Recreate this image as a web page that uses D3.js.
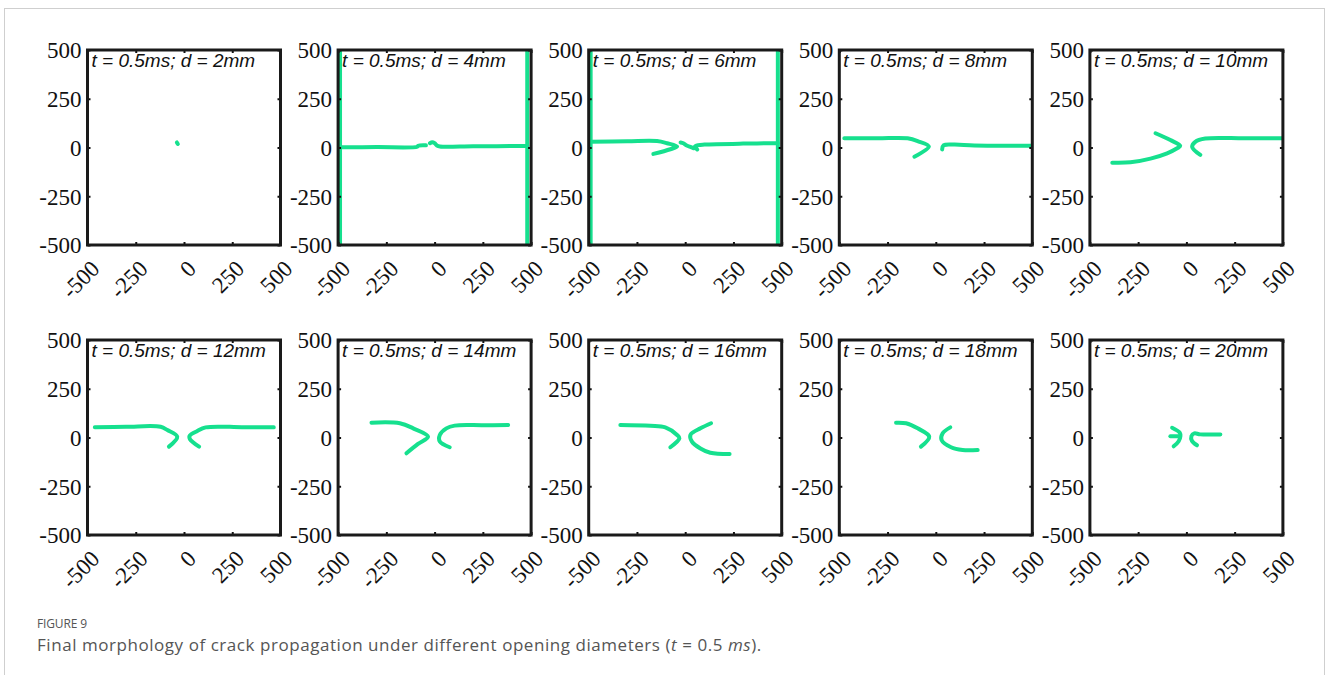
<!DOCTYPE html>
<html>
<head>
<meta charset="utf-8">
<script src="https://cdn.jsdelivr.net/npm/d3@7"></script>
<style>
  body { margin: 0; background: #fff; }
  .title { font-family: "Liberation Sans", Arial, sans-serif; font-style: italic; font-size: 19px; fill: #111; }
  .cap { font-family: "Open Sans", sans-serif; fill: #555; }
</style>
</head>
<body>
<div class="canvas"></div>
<script>
// opening diameters (mm), one panel each
const diameters = [2, 4, 6, 8, 10, 12, 14, 16, 18, 20];
const timeMs = 0.5;
const ticks = [-500, -250, 0, 250, 500];

// crack traces, [x, y] in mm
const crackD2 = [
  [[-37, 26], [-32, 18]]
];
const crackD4 = [
  [[-490, -500], [-490, 500]],
  [[480, -500], [480, 500]],
  [[-490, 1], [-300, 2], [-90, 4], [-85, 9], [-45, 11]],
  [[-24, 22], [-12, 27], [0, 22], [12, 10], [28, 5], [200, 6], [480, 8]]
];
const crackD6 = [
  [[-490, -500], [-490, 500]],
  [[480, -500], [480, 500]],
  [[-490, 30], [-300, 32], [-146, 33], [-94, 22], [-42, 5], [-77, -9], [-165, -33]],
  [[-24, 26], [-10, 22], [8, 10], [30, 2], [45, -4]],
  [[480, 22], [300, 20], [100, 15], [68, 12], [50, 4], [62, -10]]
];
const crackD8 = [
  [[-474, 47], [-300, 47], [-146, 47], [-94, 33], [-36, 5], [-111, -47]],
  [[33, -10], [40, 11], [96, 15], [200, 10], [495, 9]]
];
const crackD10 = [
  [[-384, -78], [-290, -76], [-186, -57], [-100, -30], [-48, -4], [-32, 8], [-83, 38], [-160, 73]],
  [[72, -38], [30, 3], [46, 29], [98, 46], [300, 47], [500, 47]]
];
const crackD12 = [
  [[-462, 53], [-300, 55], [-121, 55], [-86, 38], [-35, 4], [-78, -47]],
  [[78, -47], [31, -9], [29, 8], [69, 33], [112, 52], [300, 53], [465, 52]]
];
const crackD14 = [
  [[-327, 76], [-180, 73], [-111, 47], [-34, 4], [-86, -33], [-146, -81]],
  [[78, -50], [27, -21], [27, 13], [61, 47], [104, 61], [250, 63], [381, 64]]
];
const crackD16 = [
  [[-336, 64], [-180, 60], [-103, 52], [-42, 13], [-30, -4], [-77, -50]],
  [[134, 73], [79, 47], [27, 13], [35, -21], [79, -56], [130, -78], [230, -85]]
];
const crackD18 = [
  [[-206, 76], [-154, 73], [-94, 47], [-34, 4], [-77, -47]],
  [[75, 52], [35, 21], [30, -13], [79, -50], [139, -64], [217, -64]]
];
const crackD20 = [
  [[-74, 50], [-34, 24], [-31, 7], [-40, -19], [-66, -45]],
  [[-83, 7], [-40, 7]],
  [[55, -40], [29, -18], [26, 7], [41, 21], [72, 16], [176, 16]]
];
const cracks = [crackD2, crackD4, crackD6, crackD8, crackD10,
  crackD12, crackD14, crackD16, crackD18, crackD20];

const W = 1328, H = 675;
const box = { w: 193, h: 195 };
const origin = { x: 87.5, y: 50 };
const step = { x: 250.6, y: 290 };
const green = "#16e08e";
const serif = "'Liberation Serif', 'Times New Roman', Times, serif";

const svg = d3.select(".canvas").append("svg")
  .attr("width", W).attr("height", H);

// outer frame of the figure
svg.append("rect")
  .attr("x", 4.5).attr("y", 8.5)
  .attr("width", 1320).attr("height", 700)
  .attr("fill", "none").attr("stroke", "#cfcfcf");

const x = d3.scaleLinear().domain([-500, 500]).range([0, box.w]);
const y = d3.scaleLinear().domain([-500, 500]).range([box.h, 0]);

const line = d3.line()
  .x(d => x(d[0]))
  .y(d => y(d[1]))
  .curve(d3.curveCatmullRom.alpha(0.5));

// plain hyphen for negatives, like the original
const fmt = d => String(d);

diameters.forEach((dm, i) => {
  const col = i % 5, row = Math.floor(i / 5);
  const g = svg.append("g")
    .attr("transform", `translate(${origin.x + col * step.x}, ${origin.y + row * step.y})`);

  // cracks first, box on top
  const clip = "clip" + i;
  g.append("clipPath").attr("id", clip)
    .append("rect").attr("width", box.w).attr("height", box.h);

  g.append("g").attr("clip-path", `url(#${clip})`)
    .selectAll("path")
    .data(cracks[i])
    .join("path")
    .attr("d", line)
    .attr("fill", "none")
    .attr("stroke", green)
    .attr("stroke-width", 4)
    .attr("stroke-linecap", "round")
    .attr("stroke-linejoin", "round");

  // axes with inward ticks
  const yAxis = g.append("g")
    .call(d3.axisLeft(y).tickValues(ticks).tickSize(-3).tickPadding(6).tickFormat(fmt));
  const yAxisR = g.append("g").attr("transform", `translate(${box.w},0)`)
    .call(d3.axisRight(y).tickValues(ticks).tickSize(-3).tickFormat(""));
  const xAxisT = g.append("g")
    .call(d3.axisTop(x).tickValues(ticks).tickSize(-3).tickFormat(""));
  const xAxis = g.append("g").attr("transform", `translate(0,${box.h})`)
    .call(d3.axisBottom(x).tickValues(ticks).tickSize(-3).tickFormat(fmt));

  [yAxis, yAxisR, xAxisT, xAxis].forEach(a => {
    a.attr("font-family", serif).attr("font-size", 23);
    a.select(".domain").remove();
    a.selectAll("line").attr("stroke", "#111").attr("stroke-width", 2);
    a.selectAll("text").attr("fill", "#111");
  });

  yAxis.selectAll("text").attr("dy", "0.34em");

  xAxis.selectAll("text")
    .attr("text-anchor", "end")
    .attr("y", 0).attr("dy", 0)
    .attr("transform", "translate(13,25) rotate(-45)");

  g.append("rect")
    .attr("width", box.w).attr("height", box.h)
    .attr("fill", "none")
    .attr("stroke", "#1a1a1a")
    .attr("stroke-width", 3);

  g.append("text")
    .attr("class", "title")
    .attr("x", 4).attr("y", 17)
    .text(`t = ${timeMs}ms; d = ${dm}mm`);
});

// caption
svg.append("text").attr("class", "cap")
  .attr("x", 37).attr("y", 628)
  .attr("font-size", 12)
  .attr("textLength", 50)
  .text("FIGURE 9");

const cap = svg.append("text").attr("class", "cap")
  .attr("x", 37).attr("y", 651)
  .attr("font-size", 17)
  .attr("letter-spacing", 0.55);
cap.append("tspan").text("Final morphology of crack propagation under different opening diameters (");
cap.append("tspan").attr("font-style", "italic").text("t");
cap.append("tspan").text(" = 0.5 ");
cap.append("tspan").attr("font-style", "italic").text("ms");
cap.append("tspan").text(").");
</script>
</body>
</html>
